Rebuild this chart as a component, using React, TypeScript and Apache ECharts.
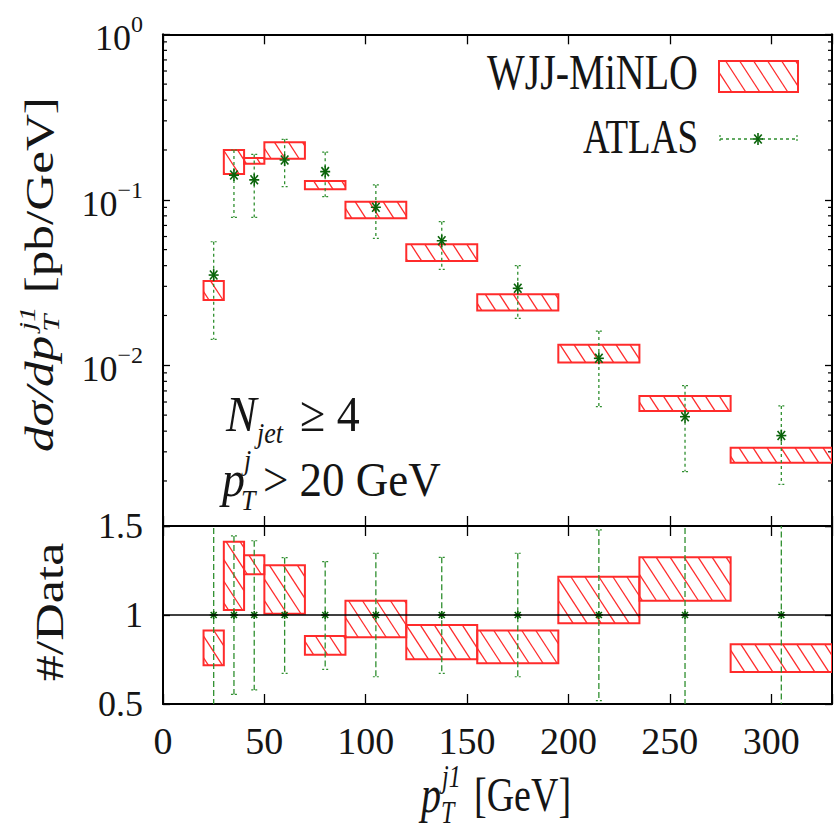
import React, { useEffect, useRef } from "react";
import * as echarts from "echarts";

// ---------- data ----------
const binLo = [20, 30, 40, 50, 70, 90, 120, 155, 195, 235, 280];
const binHi = [30, 40, 50, 70, 90, 120, 155, 195, 235, 280, 330];
// WJJ-MiNLO band, dσ/dpT [pb/GeV]
const mcLo = [0.0248, 0.143, 0.165, 0.177, 0.116, 0.0773, 0.0427, 0.0214, 0.0104, 0.00529, 0.00258];
const mcHi = [0.0323, 0.2, 0.179, 0.223, 0.13, 0.0974, 0.0539, 0.0269, 0.0133, 0.00652, 0.00318];
// ATLAS data
const dataX = [25, 35, 45, 60, 80, 105, 137.5, 175, 215, 257.5, 305];
const dataY = [0.0351, 0.141, 0.132, 0.174, 0.148, 0.0901, 0.0566, 0.0292, 0.01102, 0.00489, 0.00376];
const dataErrLo = [0.01436, 0.0784, 0.0784, 0.12, 0.1044, 0.0585, 0.038, 0.0192, 0.00562, 0.00228, 0.00191];
const dataErrHi = [0.0558, 0.2, 0.188, 0.232, 0.194, 0.123, 0.0738, 0.04, 0.0161, 0.00753, 0.00568];
// ratio panel
const ratioLo = [0.717, 1.028, 1.229, 1.007, 0.777, 0.875, 0.751, 0.729, 0.953, 1.08, 0.68];
const ratioHi = [0.913, 1.412, 1.335, 1.279, 0.882, 1.08, 0.944, 0.913, 1.215, 1.324, 0.836];
const ratioData = [1, 1, 1, 1, 1, 1, 1, 1, 1, 1, 1];
const ratioErrLo = [0.41, 0.554, 0.579, 0.672, 0.695, 0.653, 0.672, 0.653, 0.519, 0.466, 0.49];
const ratioErrHi = [1.59, 1.444, 1.417, 1.322, 1.3, 1.347, 1.324, 1.347, 1.478, 1.54, 1.52];
// log-axis minor tick values
const minorTicks = [
  0.002, 0.003, 0.004, 0.005, 0.006, 0.007, 0.008, 0.009,
  0.02, 0.03, 0.04, 0.05, 0.06, 0.07, 0.08, 0.09,
  0.2, 0.3, 0.4, 0.5, 0.6, 0.7, 0.8, 0.9,
];
const xMin = 0;
const xMax = 330;
const yTopMin = 1.069e-3;
const yTopMax = 1;

// ---------- style ----------
const FONT = '"Liberation Serif", "Times New Roman", serif';
const RED = "#ff2b2b";
const GREEN_ERR = "#2f8f2f";
const GREEN_MK = "#0a640a";
const INK = "#151515";
const L = 163, R = 832, T = 34.3, MID = 526, B = 704;

const HATCH_SLOPE = 0.65;
const HATCH_GAP = 14;
function hatchLines(x0: number, y0: number, x1: number, y1: number) {
  const out: number[][] = [];
  const cMin = x0 - HATCH_SLOPE * y1;
  const cMax = x1 - HATCH_SLOPE * y0;
  for (let k = Math.ceil(cMin / HATCH_GAP); k * HATCH_GAP <= cMax; k++) {
    const c = k * HATCH_GAP;
    const ya = Math.max(y0, (x0 - c) / HATCH_SLOPE);
    const yb = Math.min(y1, (x1 - c) / HATCH_SLOPE);
    if (yb - ya < 0.8) continue;
    out.push([c + HATCH_SLOPE * ya, ya, c + HATCH_SLOPE * yb, yb]);
  }
  return out;
}

function hatchedBox(x0: number, y0: number, x1: number, y1: number) {
  const children: any[] = hatchLines(x0, y0, x1, y1).map((s) => ({
    type: "line",
    shape: { x1: s[0], y1: s[1], x2: s[2], y2: s[3] },
    style: { stroke: RED, lineWidth: 1.3 },
  }));
  children.push({
    type: "rect",
    shape: { x: x0, y: y0, width: x1 - x0, height: y1 - y0 },
    style: { fill: "none", stroke: RED, lineWidth: 2 },
  });
  return children;
}

const boxRender = (params: any, api: any) => {
  const a = api.coord([api.value(0), api.value(3)]);
  const b = api.coord([api.value(1), api.value(2)]);
  const x0 = Math.min(a[0], b[0]);
  const x1 = Math.max(a[0], b[0]);
  const y0 = Math.min(a[1], b[1]);
  const y1 = Math.max(a[1], b[1]);
  return { type: "group", children: hatchedBox(x0, y0, x1, y1) };
};

function star(x: number, y: number, rx: number, ry: number) {
  const st = { stroke: GREEN_MK, lineWidth: 1.6 };
  return [
    { type: "line", shape: { x1: x, y1: y - ry, x2: x, y2: y + ry }, style: st },
    { type: "line", shape: { x1: x - rx, y1: y, x2: x + rx, y2: y }, style: st },
    { type: "line", shape: { x1: x - rx * 0.75, y1: y - ry * 0.75, x2: x + rx * 0.75, y2: y + ry * 0.75 }, style: st },
    { type: "line", shape: { x1: x - rx * 0.75, y1: y + ry * 0.75, x2: x + rx * 0.75, y2: y - ry * 0.75 }, style: st },
  ];
}

const errRender = (dash: number[], rx: number, ry: number) => (params: any, api: any) => {
  const c = api.coord([api.value(0), api.value(1)]);
  const lo = api.coord([api.value(0), api.value(2)]);
  const hi = api.coord([api.value(0), api.value(3)]);
  const x = c[0];
  const st = { stroke: GREEN_ERR, lineWidth: 1.3, lineDash: dash };
  const cap = { stroke: GREEN_ERR, lineWidth: 1.2, lineDash: [2, 2] };
  return {
    type: "group",
    children: [
      { type: "line", shape: { x1: x, y1: hi[1], x2: x, y2: lo[1] }, style: st },
      { type: "line", shape: { x1: x - 3, y1: hi[1], x2: x + 3, y2: hi[1] }, style: cap },
      { type: "line", shape: { x1: x - 3, y1: lo[1], x2: x + 3, y2: lo[1] }, style: cap },
      ...star(x, c[1], rx, ry),
    ],
  };
};

const minorRender = (params: any, api: any) => {
  const a = api.coord([xMin, api.value(1)]);
  const b = api.coord([xMax, api.value(1)]);
  const st = { stroke: "#000", lineWidth: 1.2 };
  return {
    type: "group",
    children: [
      { type: "line", shape: { x1: a[0], y1: a[1], x2: a[0] + 4, y2: a[1] }, style: st },
      { type: "line", shape: { x1: b[0] - 4, y1: b[1], x2: b[0], y2: b[1] }, style: st },
    ],
  };
};

// ---------- texts ----------
function txt(text: string, x: number, y: number, size: number, o: any = {}) {
  const align = o.align || "left";
  return {
    type: "text",
    x,
    y,
    scaleX: o.sx || 1,
    scaleY: o.sy || 1,
    z: 100,
    style: {
      text,
      fontSize: size,
      fontFamily: FONT,
      fontStyle: o.italic ? "italic" : "normal",
      fill: INK,
      align,
      textAlign: align,
      verticalAlign: "middle",
      textVerticalAlign: "middle",
    },
  };
}

const axisLineStyle = { show: true, onZero: false, lineStyle: { color: "#000", width: 2 } };
const xTick = { show: true, inside: true, length: 10, lineStyle: { color: "#000", width: 1.3 } };
const yTick = { show: true, inside: true, length: 7, lineStyle: { color: "#000", width: 1.3 } };

const xAxisBase = (gridIndex: number, position: string, showLabel: boolean) => ({
  type: "value",
  gridIndex,
  position,
  min: xMin,
  max: xMax,
  interval: 50,
  axisLine: axisLineStyle,
  axisTick: xTick,
  splitLine: { show: false },
  axisLabel: {
    show: showLabel,
    fontSize: 38,
    fontFamily: FONT,
    color: INK,
    margin: 18,
    formatter: (v: number) => (v % 50 === 0 && v <= 300 ? String(v) : ""),
  },
});

const logLabel = (v: number) => {
  const lg = Math.log10(v);
  const e = Math.round(lg);
  if (Math.abs(lg - e) > 0.01) return "";
  return `{b|10}{s|${e === 0 ? "0" : "\u2212" + -e}}`;
};

const legendHatch = hatchedBox(719, 61, 798, 92);

const option: any = {
  animation: false,
  backgroundColor: "#fff",
  grid: [
    { left: L, top: T, width: R - L, height: MID - T, show: false },
    { left: L, top: MID, width: R - L, height: B - MID, show: false },
  ],
  xAxis: [
    xAxisBase(0, "bottom", false),
    xAxisBase(0, "top", false),
    xAxisBase(1, "bottom", true),
    xAxisBase(1, "top", false),
  ],
  yAxis: [
    {
      type: "log",
      logBase: 10,
      gridIndex: 0,
      position: "left",
      min: yTopMin,
      max: yTopMax,
      axisLine: axisLineStyle,
      axisTick: yTick,
      splitLine: { show: false },
      axisLabel: {
        margin: 20,
        formatter: logLabel,
        rich: {
          b: { fontSize: 36, fontFamily: FONT, color: INK, lineHeight: 44, verticalAlign: "bottom" },
          s: { fontSize: 24, fontFamily: FONT, color: INK, lineHeight: 22, verticalAlign: "top" },
        },
      },
    },
    {
      type: "log",
      logBase: 10,
      gridIndex: 0,
      position: "right",
      min: yTopMin,
      max: yTopMax,
      axisLine: axisLineStyle,
      axisTick: yTick,
      splitLine: { show: false },
      axisLabel: { show: false },
    },
    {
      type: "value",
      gridIndex: 1,
      position: "left",
      min: 0.5,
      max: 1.5,
      interval: 0.5,
      axisLine: axisLineStyle,
      axisTick: yTick,
      splitLine: { show: false },
      axisLabel: { margin: 20, fontSize: 36, fontFamily: FONT, color: INK },
    },
    {
      type: "value",
      gridIndex: 1,
      position: "right",
      min: 0.5,
      max: 1.5,
      interval: 0.5,
      axisLine: axisLineStyle,
      axisTick: yTick,
      splitLine: { show: false },
      axisLabel: { show: false },
    },
  ],
  series: [
    {
      type: "custom",
      name: "minor",
      xAxisIndex: 0,
      yAxisIndex: 0,
      clip: false,
      silent: true,
      data: minorTicks.map((v) => [xMin, v]),
      encode: { x: 0, y: 1 },
      renderItem: minorRender,
    },
    {
      type: "custom",
      name: "WJJ-MiNLO",
      xAxisIndex: 0,
      yAxisIndex: 0,
      clip: true,
      z: 2,
      data: binLo.map((lo, i) => [lo, binHi[i], mcLo[i], mcHi[i]]),
      encode: { x: [0, 1], y: [2, 3] },
      renderItem: boxRender,
    },
    {
      type: "custom",
      name: "ATLAS",
      xAxisIndex: 0,
      yAxisIndex: 0,
      clip: true,
      z: 3,
      data: dataX.map((x, i) => [x, dataY[i], dataErrLo[i], dataErrHi[i]]),
      encode: { x: 0, y: [1, 2, 3] },
      renderItem: errRender([3, 3], 5, 6),
    },
    {
      type: "custom",
      name: "WJJ-MiNLO/Data",
      xAxisIndex: 2,
      yAxisIndex: 2,
      clip: true,
      z: 2,
      data: binLo.map((lo, i) => [lo, binHi[i], ratioLo[i], ratioHi[i]]),
      encode: { x: [0, 1], y: [2, 3] },
      renderItem: boxRender,
    },
    {
      type: "custom",
      name: "ATLAS/Data",
      xAxisIndex: 2,
      yAxisIndex: 2,
      clip: true,
      z: 3,
      data: dataX.map((x, i) => [x, ratioData[i], ratioErrLo[i], ratioErrHi[i]]),
      encode: { x: 0, y: [1, 2, 3] },
      renderItem: errRender([6, 3], 4, 4),
      markLine: {
        silent: true,
        symbol: ["none", "none"],
        label: { show: false },
        lineStyle: { color: "#000", width: 1.5, type: "solid" },
        data: [{ yAxis: 1 }],
      },
    },
  ],
  graphic: [
    // legend
    txt("WJJ-MiNLO", 698, 72, 40, { align: "right", sy: 1.28 }),
    ...legendHatch.map((c: any) => ({ ...c, z: 100 })),
    txt("ATLAS", 698, 136, 37, { align: "right", sy: 1.32 }),
    { type: "line", z: 100, shape: { x1: 720, y1: 139, x2: 797, y2: 139 }, style: { stroke: GREEN_ERR, lineWidth: 1.3, lineDash: [3, 3] } },
    { type: "line", z: 100, shape: { x1: 720, y1: 135, x2: 720, y2: 143 }, style: { stroke: GREEN_ERR, lineWidth: 1.2, lineDash: [2, 2] } },
    { type: "line", z: 100, shape: { x1: 797, y1: 135, x2: 797, y2: 143 }, style: { stroke: GREEN_ERR, lineWidth: 1.2, lineDash: [2, 2] } },
    ...star(758, 139, 5, 6).map((c: any) => ({ ...c, z: 101 })),
    // annotations
    txt("N", 226, 414, 46, { italic: true, sy: 1.1 }),
    txt("jet", 257, 434, 26, { italic: true, sy: 1.1 }),
    txt("\u2265 4", 300, 414, 46, { sy: 1.1 }),
    txt("p", 222, 479, 46, { italic: true, sy: 1.1 }),
    txt("j", 244, 461, 26, { italic: true, sy: 1.1 }),
    txt("T", 241, 501, 26, { italic: true, sy: 1.1 }),
    txt("> 20 GeV", 263, 479, 45, { sy: 1.1 }),
    // x-axis title
    txt("p", 421, 795, 40, { italic: true, sy: 1.3 }),
    txt("j1", 442, 776, 24, { italic: true, sy: 1.3 }),
    txt("T", 441, 812, 24, { italic: true, sy: 1.3 }),
    txt("[GeV]", 474, 795, 38, { sy: 1.3 }),
    // y-axis title (top panel)
    {
      type: "group",
      x: 40,
      y: 452,
      rotation: Math.PI / 2,
      scaleX: 1.28,
      children: [
        txt("d\u03c3/dp", 0, 0, 40, { italic: true }),
        txt("j1", 95, -13, 24, { italic: true }),
        txt("T", 94, 11, 24, { italic: true }),
        txt("[pb/GeV]", 124, 0, 40),
      ],
    },
    // y-axis title (ratio panel)
    {
      type: "group",
      x: 50,
      y: 612,
      rotation: Math.PI / 2,
      scaleX: 1.3,
      children: [txt("#/Data", 0, 0, 40, { align: "center" })],
    },
  ],
};

export default function App() {
  const ref = useRef<HTMLDivElement>(null);
  useEffect(() => {
    if (!ref.current) return;
    const chart = echarts.init(ref.current, null, { renderer: "svg" });
    chart.setOption(option);
    return () => chart.dispose();
  }, []);
  return (
    <div
      ref={ref}
      style={{ position: "absolute", left: 0, top: 0, width: 840, height: 828, background: "#fff" }}
    />
  );
}
